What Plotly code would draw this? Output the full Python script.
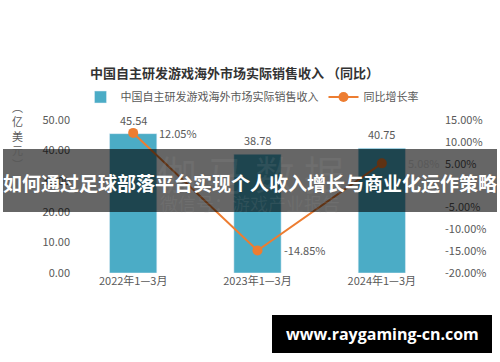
import plotly.graph_objects as go

categories = ["2022年1—3月", "2023年1—3月", "2024年1—3月"]
revenue = [45.54, 38.78, 40.75]
growth = [12.05, -14.85, 5.08]
left_ticks = [0, 10, 20, 30, 40, 50]
right_ticks = [-20, -15, -10, -5, 0, 5, 10, 15]

W, H = 500, 362
L, R, T, B = 71, 56, 120, 89
PW, PH = W - L - R, H - T - B

def px(x):
    return (x - L) / PW

def py(y):
    return (H - B - y) / PH

FONT = "Noto Sans CJK SC, Microsoft YaHei, sans-serif"
GREY = "#595959"
BAR = "#4BACC6"
ORANGE = "#ED7D31"

fig = go.Figure()
fig.add_trace(go.Bar(
    x=categories, y=revenue, name="中国自主研发游戏海外市场实际销售收入",
    marker=dict(color=BAR), width=0.38,
))
fig.add_trace(go.Scatter(
    x=categories, y=growth, name="同比增长率", yaxis="y2",
    mode="lines+markers", line=dict(color=ORANGE, width=2),
    marker=dict(size=10, color=ORANGE), cliponaxis=False,
))

annotations = []
for c, v in zip(categories, revenue):
    annotations.append(dict(
        x=c, y=v, xref="x", yref="y", text=f"{v:.2f}", showarrow=False,
        xanchor="center", yanchor="bottom", yshift=4,
        font=dict(size=11, color=GREY, family=FONT),
    ))
for c, g in zip(categories, growth):
    annotations.append(dict(
        x=c, y=g, xref="x", yref="y2", text=f"{g:.2f}%", showarrow=False,
        xanchor="left", yanchor="middle", xshift=24,
        font=dict(size=11, color=GREY, family=FONT),
    ))

# y-axis title (vertical)
annotations.append(dict(
    x=px(18), y=py(135), xref="paper", yref="paper",
    text="︵<br>亿<br>美<br>元<br>︶", showarrow=False,
    xanchor="center", yanchor="middle",
    font=dict(size=11, color=GREY, family=FONT),
))
# watermark
annotations.append(dict(
    x=px(250), y=py(173), xref="paper", yref="paper", text="伽 马 数 据",
    showarrow=False, font=dict(size=40, color="rgba(170,170,170,0.12)", family=FONT),
))
annotations.append(dict(
    x=px(250), y=py(203), xref="paper", yref="paper", text="微信号：游戏产业报告",
    showarrow=False, font=dict(size=18, color="rgba(170,170,170,0.12)", family=FONT),
))
# banner text
annotations.append(dict(
    x=px(250), y=py(182), xref="paper", yref="paper",
    text="<b>如何通过足球部落平台实现个人收入增长与商业化运作策略</b>",
    showarrow=False, xanchor="center", yanchor="middle",
    font=dict(size=19, color="white", family=FONT),
))
# website
annotations.append(dict(
    x=px(382), y=py(334), xref="paper", yref="paper",
    text="<b>www.raygaming-cn.com</b>", showarrow=False,
    xanchor="center", yanchor="middle",
    font=dict(size=16, color="white", family="Open Sans, sans-serif"),
))

shapes = [
    dict(type="rect", xref="paper", yref="paper", x0=px(3), x1=px(497),
         y0=py(212), y1=py(149), fillcolor="rgba(0,0,0,0.6)", line=dict(width=0),
         layer="above"),
    dict(type="rect", xref="paper", yref="paper", x0=px(272), x1=px(492),
         y0=py(353), y1=py(315), fillcolor="black", line=dict(width=0),
         layer="above"),
]

fig.update_layout(
    width=W, height=H, margin=dict(l=L, r=R, t=T, b=B),
    paper_bgcolor="white", plot_bgcolor="white",
    font=dict(family=FONT, color=GREY, size=11),
    title=dict(text="<b>中国自主研发游戏海外市场实际销售收入 （同比）</b>",
               x=px(246), xanchor="center", y=1 - 73 / H, yanchor="middle",
               font=dict(size=13, color="#333333", family=FONT)),
    legend=dict(orientation="h", x=px(252), xanchor="center", y=py(97),
                yanchor="middle", font=dict(size=11, color=GREY, family=FONT),
                itemwidth=30, bgcolor="rgba(0,0,0,0)"),
    xaxis=dict(type="category", range=[-0.5, 2.5], showgrid=False, showline=False,
               ticks="", tickfont=dict(size=11, color=GREY)),
    yaxis=dict(range=[0, 50], tickvals=left_ticks,
               ticktext=[f"{v:.2f}" for v in left_ticks], showgrid=False,
               zeroline=False, showline=False, ticks="",
               tickfont=dict(size=11, color=GREY)),
    yaxis2=dict(range=[-20, 15], overlaying="y", side="right",
                tickvals=right_ticks,
                ticktext=["" if v == 0 else f"{v:.2f}%" for v in right_ticks],
                showgrid=False, zeroline=False, showline=False, ticks="",
                tickfont=dict(size=11, color=GREY)),
    annotations=annotations, shapes=shapes, showlegend=True, bargap=0.6,
)

fig.write_html("out.html", config={"displayModeBar": False},
               post_script="document.body.style.margin='0';document.body.style.padding='0';")
